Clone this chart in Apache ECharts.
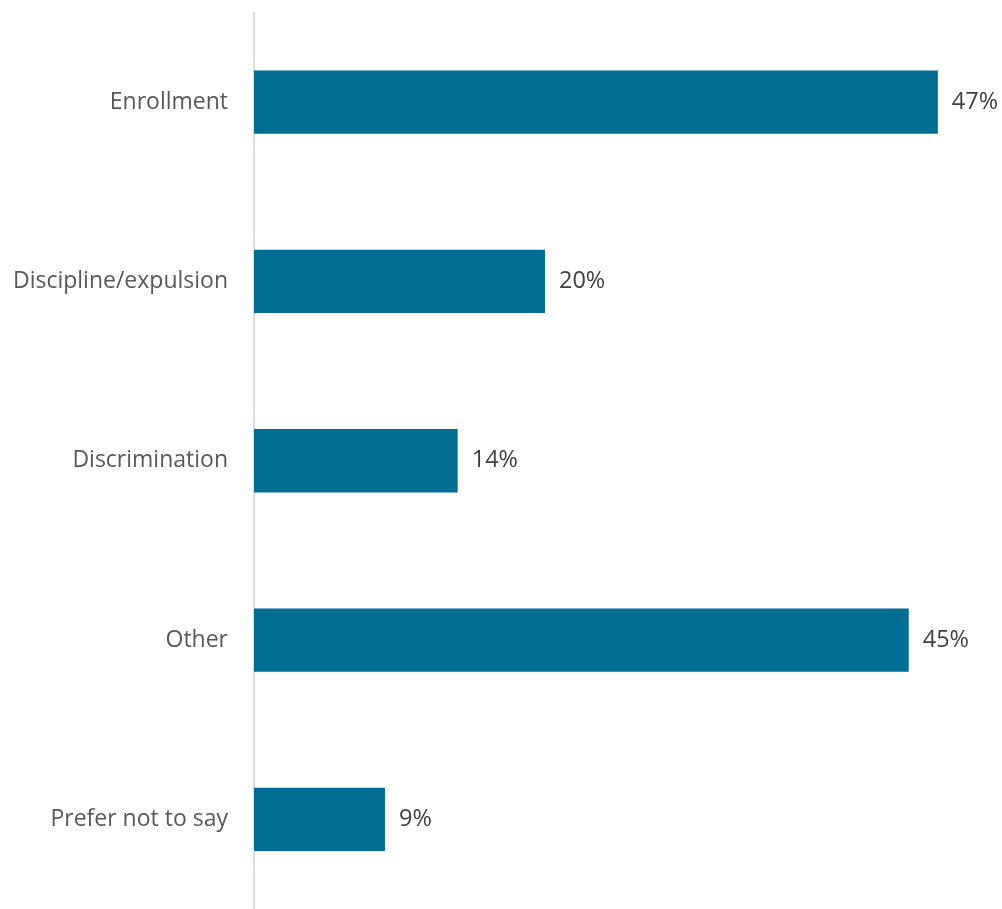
<!DOCTYPE html>
<html>
<head>
<meta charset="utf-8">
<script src="https://cdn.jsdelivr.net/npm/echarts@6/dist/echarts.min.js"></script>
<style>
  html, body { margin: 0; padding: 0; background: #ffffff; }
  #chart { width: 1002px; height: 909px; }
</style>
</head>
<body>
<div id="chart"></div>
<script>
// Survey response categories, top to bottom
const categories = ['Enrollment', 'Discipline/expulsion', 'Discrimination', 'Other', 'Prefer not to say'];
// Share of respondents (%)
const values = [47, 20, 14, 45, 9];

const chart = echarts.init(document.getElementById('chart'));
chart.setOption({
  animation: false,
  grid: { left: 254, right: 20.5, top: 12.5, bottom: -3.5, containLabel: false },
  xAxis: {
    type: 'value',
    min: 0,
    max: 50,
    show: false
  },
  yAxis: {
    type: 'category',
    data: categories,
    inverse: true,
    axisLine: { show: true, lineStyle: { color: '#d0d0d0', width: 1.5 } },
    axisTick: { show: false },
    axisLabel: {
      margin: 26,
      fontFamily: 'Open Sans',
      fontSize: 23,
      color: '#595959'
    }
  },
  series: [{
    type: 'bar',
    data: values,
    barWidth: '35.3%',
    itemStyle: { color: '#026e94' },
    label: {
      show: true,
      position: 'right',
      distance: 14,
      formatter: p => p.value + '%',
      fontFamily: 'Open Sans',
      fontSize: 23.5,
      color: '#404040'
    }
  }]
});
</script>
</body>
</html>
